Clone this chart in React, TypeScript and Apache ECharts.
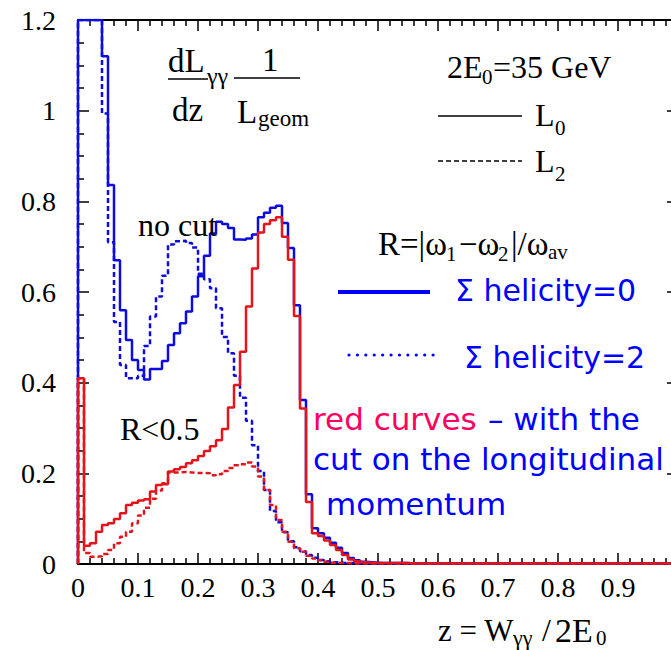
import React, { useEffect, useRef } from 'react';
import * as echarts from 'echarts';

// Histogram bin width in z
const BIN_WIDTH = 0.01;

// dL/dz (1/L_geom), 100 bins of width 0.01 from z = 0 to z = 1
// Bins 0-3 of the no-cut curves run off the top of the frame (drawn at 1.2 there).
const noCutL0 = [
  1.2, 1.2, 1.2, 1.2, 1.12, 0.836, 0.67, 0.56, 0.494, 0.45,
  0.428, 0.407, 0.43, 0.43, 0.448, 0.483, 0.509, 0.531, 0.557, 0.59,
  0.635, 0.68, 0.729, 0.755, 0.75, 0.741, 0.716, 0.715, 0.718, 0.727,
  0.765, 0.775, 0.786, 0.79, 0.752, 0.697, 0.571, 0.362, 0.154, 0.079,
  0.068, 0.058, 0.047, 0.036, 0.024, 0.013, 0.008, 0.005, 0.004, 0.003,
  0.002, 0.002, 0.002, 0.002, 0.002, 0.001, 0.001, 0.001, 0.001, 0.001,
  0.001, 0.001, 0.001, 0.001, 0.001, 0.001, 0.001, 0.001, 0.001, 0.001,
  0.001, 0.001, 0.001, 0.001, 0.001, 0.001, 0.001, 0.001, 0.001, 0.001,
  0.001, 0.001, 0.001, 0.001, 0.001, 0.001, 0.001, 0.001, 0.001, 0.001,
  0.001, 0.001, 0.001, 0.001, 0.001, 0.001, 0.001, 0.001, 0.001, 0.001,
];

const noCutL2 = [
  1.2, 1.2, 1.2, 1.2, 0.994, 0.71, 0.534, 0.439, 0.41, 0.41,
  0.415, 0.481, 0.546, 0.59, 0.636, 0.705, 0.712, 0.713, 0.708, 0.698,
  0.64, 0.628, 0.608, 0.564, 0.501, 0.465, 0.415, 0.367, 0.316, 0.262,
  0.205, 0.163, 0.117, 0.092, 0.07, 0.05, 0.037, 0.028, 0.02, 0.014,
  0.009, 0.006, 0.004, 0.003, 0.002, 0.002, 0.001, 0.001, 0.001, 0.001,
  0.001, 0.001, 0.001, 0.001, 0.001, 0.001, 0.001, 0.001, 0.001, 0.001,
  0.001, 0.001, 0.001, 0.001, 0.001, 0.001, 0.001, 0.001, 0.001, 0.001,
  0.001, 0.001, 0.001, 0.001, 0.001, 0.001, 0.001, 0.001, 0.001, 0.001,
  0.001, 0.001, 0.001, 0.001, 0.001, 0.001, 0.001, 0.001, 0.001, 0.001,
  0.001, 0.001, 0.001, 0.001, 0.001, 0.001, 0.001, 0.001, 0.001, 0.001,
];

const cutL0 = [
  0.41, 0.04, 0.046, 0.071, 0.086, 0.09, 0.099, 0.112, 0.13, 0.135,
  0.14, 0.143, 0.16, 0.174, 0.176, 0.204, 0.209, 0.214, 0.222, 0.229,
  0.238, 0.249, 0.26, 0.273, 0.298, 0.345, 0.395, 0.468, 0.568, 0.652,
  0.731, 0.75, 0.758, 0.765, 0.722, 0.671, 0.547, 0.343, 0.137, 0.068,
  0.062, 0.052, 0.042, 0.031, 0.02, 0.01, 0.006, 0.004, 0.003, 0.002,
  0.002, 0.002, 0.002, 0.002, 0.002, 0.001, 0.001, 0.001, 0.001, 0.001,
  0.001, 0.001, 0.001, 0.001, 0.001, 0.001, 0.001, 0.001, 0.001, 0.001,
  0.001, 0.001, 0.001, 0.001, 0.001, 0.001, 0.001, 0.001, 0.001, 0.001,
  0.001, 0.001, 0.001, 0.001, 0.001, 0.001, 0.001, 0.001, 0.001, 0.001,
  0.001, 0.001, 0.001, 0.001, 0.001, 0.001, 0.001, 0.001, 0.001, 0.001,
];

const cutL2 = [
  0.41, 0.024, 0.016, 0.017, 0.022, 0.031, 0.046, 0.06, 0.071, 0.09,
  0.107, 0.124, 0.144, 0.162, 0.178, 0.202, 0.202, 0.203, 0.202, 0.201,
  0.201, 0.2, 0.196, 0.198, 0.205, 0.212, 0.218, 0.22, 0.224, 0.215,
  0.193, 0.163, 0.13, 0.097, 0.071, 0.049, 0.035, 0.027, 0.018, 0.012,
  0.008, 0.005, 0.003, 0.002, 0.002, 0.001, 0.001, 0.001, 0.001, 0.001,
  0.001, 0.001, 0.001, 0.001, 0.001, 0.001, 0.001, 0.001, 0.001, 0.001,
  0.001, 0.001, 0.001, 0.001, 0.001, 0.001, 0.001, 0.001, 0.001, 0.001,
  0.001, 0.001, 0.001, 0.001, 0.001, 0.001, 0.001, 0.001, 0.001, 0.001,
  0.001, 0.001, 0.001, 0.001, 0.001, 0.001, 0.001, 0.001, 0.001, 0.001,
  0.001, 0.001, 0.001, 0.001, 0.001, 0.001, 0.001, 0.001, 0.001, 0.001,
];

const X_MIN = 0;
const X_MAX = 1;
const X_STEP = 0.1;
const Y_MIN = 0;
const Y_MAX = 1.2;
const Y_STEP = 0.2;

const BLUE = '#0c0ce0';
const RED = '#e3141c';
const TEXT_BLUE = '#0000ff';
const TEXT_PINK = '#ff0060';
const SERIF = '"Liberation Serif", "Times New Roman", serif';
const SANS = '"DejaVu Sans", Verdana, sans-serif';

// histogram outline: start at (0,0), then one point per bin start, then the right edge
function histSteps(vals: number[]): number[][] {
  const pts: number[][] = [[0, 0]];
  vals.forEach((v, i) => pts.push([+(i * BIN_WIDTH).toFixed(4), v]));
  pts.push([+(vals.length * BIN_WIDTH).toFixed(4), vals[vals.length - 1]]);
  return pts;
}

function txt(text: string, x: number, y: number, size: number, family: string, color = '#000') {
  return {
    type: 'text',
    x,
    y,
    silent: true,
    z: 100,
    style: {
      text,
      font: `${size}px ${family}`,
      fill: color,
      textAlign: 'left',
      textVerticalAlign: 'middle',
      align: 'left',
      verticalAlign: 'middle',
    },
  };
}

function seg(x1: number, y1: number, x2: number, y2: number, color: string, width: number, dash?: number[], cap = 'butt') {
  return {
    type: 'line',
    silent: true,
    z: 100,
    shape: { x1, y1, x2, y2 },
    style: { stroke: color, lineWidth: width, lineDash: dash, lineCap: cap },
  };
}

function makeXAxis(position: 'bottom' | 'top') {
  return {
    type: 'value',
    gridIndex: 0,
    position,
    min: X_MIN,
    max: X_MAX,
    interval: X_STEP,
    axisLine: { show: true, onZero: false, lineStyle: { color: '#000', width: 2 } },
    axisTick: { show: true, inside: true, length: 11, lineStyle: { color: '#000', width: 1.5 } },
    minorTick: { show: true, splitNumber: 5, length: 6, lineStyle: { color: '#000', width: 1.5 } },
    splitLine: { show: false },
    minorSplitLine: { show: false },
    axisLabel: {
      show: position === 'bottom',
      margin: 9,
      color: '#000',
      fontSize: 28,
      fontFamily: SERIF,
      hideOverlap: false,
      formatter: (v: number) => (v >= X_MAX - 1e-9 ? '' : String(+v.toFixed(2))),
    },
  };
}

function makeYAxis(position: 'left' | 'right') {
  return {
    type: 'value',
    gridIndex: 0,
    position,
    min: Y_MIN,
    max: Y_MAX,
    interval: Y_STEP,
    axisLine: { show: true, onZero: false, lineStyle: { color: '#000', width: 2 } },
    axisTick: { show: true, inside: true, length: 11, lineStyle: { color: '#000', width: 1.5 } },
    minorTick: { show: true, splitNumber: 4, length: 6, lineStyle: { color: '#000', width: 1.5 } },
    splitLine: { show: false },
    minorSplitLine: { show: false },
    axisLabel: {
      show: position === 'left',
      margin: 22,
      color: '#000',
      fontSize: 28,
      fontFamily: SERIF,
      formatter: (v: number) => String(+v.toFixed(2)),
    },
  };
}

function lineSeries(name: string, vals: number[], color: string, dashed: boolean) {
  return {
    name,
    type: 'line',
    step: 'end',
    xAxisIndex: 0,
    yAxisIndex: 0,
    data: histSteps(vals),
    symbol: 'none',
    showSymbol: false,
    clip: true,
    lineStyle: { color, width: 2.5, type: dashed ? [5, 3] : 'solid' },
    emphasis: { disabled: true },
  };
}

export default function App() {
  const ref = useRef<HTMLDivElement>(null);

  useEffect(() => {
    if (!ref.current) return;
    document.body.style.margin = '0';
    const chart = echarts.init(ref.current, null, { renderer: 'svg', width: 671, height: 650 });

    const graphic = [
      // dL_gg/dz * 1/L_geom
      txt('dL', 168, 61, 33, SERIF),
      txt('γγ', 207, 76, 24, SERIF),
      seg(168, 79, 208, 79, '#000', 1.5),
      txt('dz', 172, 110, 33, SERIF),
      txt('1', 262, 60, 33, SERIF),
      seg(234, 78, 300, 78, '#000', 1.5),
      txt('L', 237, 112, 33, SERIF),
      txt('geom', 258, 118, 23, SERIF),
      // energy
      txt('2E', 447, 67, 32, SERIF),
      txt('0', 482, 77, 21, SERIF),
      txt('=35 GeV', 493, 67, 32, SERIF),
      // L0 / L2 legend
      seg(438, 116, 522, 116, '#000', 1.5),
      txt('L', 535, 115, 32, SERIF),
      txt('0', 555, 128, 21, SERIF),
      seg(438, 161, 522, 161, '#000', 1.5, [5, 3]),
      txt('L', 535, 161, 32, SERIF),
      txt('2', 555, 174, 21, SERIF),
      // R definition
      txt('R=|ω', 378, 244, 33, SERIF),
      txt('1', 446, 254, 21, SERIF),
      txt('−ω', 459, 244, 33, SERIF),
      txt('2', 498, 254, 21, SERIF),
      txt('|/ω', 511, 244, 33, SERIF),
      txt('av', 548, 252, 21, SERIF),
      // helicity legend
      seg(338, 292, 430, 292, TEXT_BLUE, 4),
      txt('Σ helicity=0', 455, 290, 30, SANS, TEXT_BLUE),
      seg(349, 355, 441, 355, TEXT_BLUE, 3.2, [0.01, 8.4], 'round'),
      txt('Σ helicity=2', 464, 357, 30, SANS, TEXT_BLUE),
      // curve annotations
      txt('no cut', 138, 225, 32, SERIF),
      txt('R<0.5', 120, 429, 32, SERIF),
      txt('red curves', 313, 419, 31, SANS, TEXT_PINK),
      txt('– with the', 488, 419, 31, SANS, TEXT_BLUE),
      txt('cut on the longitudinal', 313, 459, 31, SANS, TEXT_BLUE),
      txt('momentum', 326, 504, 31, SANS, TEXT_BLUE),
      // x axis title
      txt('z = W', 438, 630, 31, SERIF),
      txt('γγ', 513, 637, 22, SERIF),
      txt('/', 542, 630, 32, SERIF),
      txt('2E', 555, 630, 34, SERIF),
      txt('0', 596, 638, 21, SERIF),
    ];

    const option = {
      animation: false,
      backgroundColor: '#ffffff',
      grid: { left: 78, right: -7, top: 20, bottom: 86, containLabel: false, outerBoundsMode: 'none' },
      xAxis: [makeXAxis('bottom'), makeXAxis('top')],
      yAxis: [makeYAxis('left'), makeYAxis('right')],
      tooltip: { show: false },
      legend: { show: false },
      series: [
        lineSeries('L2 no cut', noCutL2, BLUE, true),
        lineSeries('L0 no cut', noCutL0, BLUE, false),
        lineSeries('L2 R<0.5', cutL2, RED, true),
        lineSeries('L0 R<0.5', cutL0, RED, false),
      ],
      graphic,
    };

    chart.setOption(option as any);
    return () => chart.dispose();
  }, []);

  return (
    <div style={{ position: 'fixed', left: 0, top: 0, width: 671, height: 650, background: '#fff', overflow: 'hidden' }}>
      <div ref={ref} style={{ width: 671, height: 650 }} />
    </div>
  );
}
